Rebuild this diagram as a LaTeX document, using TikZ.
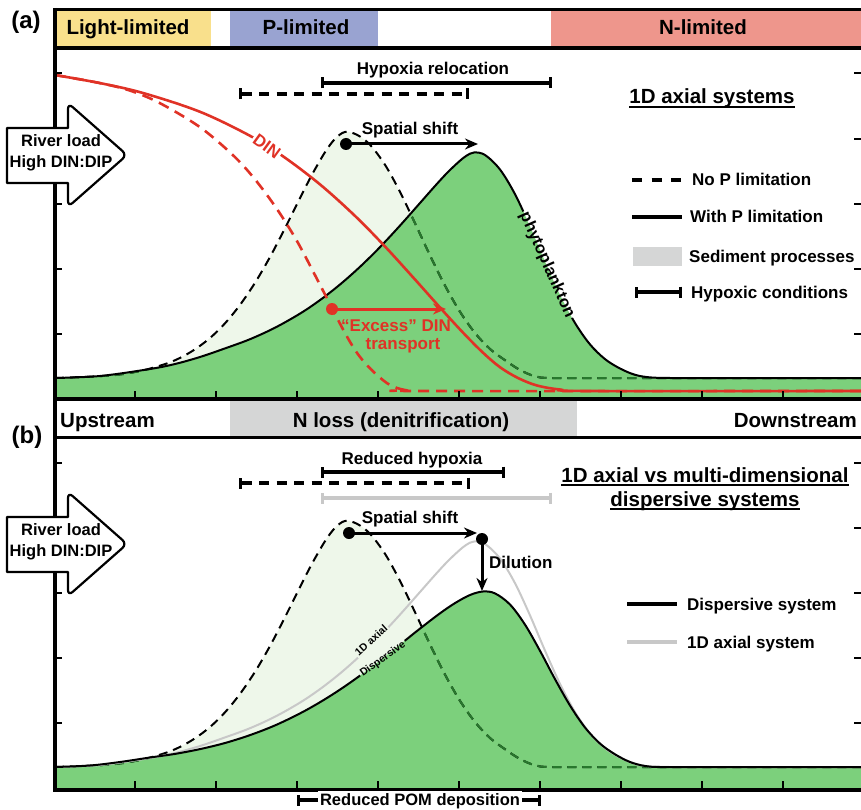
\documentclass[tikz,border=0pt]{standalone}
\usepackage{fontspec}
\setmainfont{Liberation Sans}
\usetikzlibrary{arrows.meta}
\definecolor{cgreen}{RGB}{124,208,124}
\definecolor{clight}{RGB}{238,247,234}
\definecolor{cdkgreen}{RGB}{40,120,45}
\definecolor{cred}{RGB}{224,50,38}
\definecolor{cgreybox}{RGB}{213,214,214}
\definecolor{cgreyline}{RGB}{200,200,200}
\definecolor{cyellow}{RGB}{249,224,140}
\definecolor{cblue}{RGB}{153,163,209}
\definecolor{csalmon}{RGB}{238,150,140}
\newcommand\curveGA{plot[smooth,tension=0.55] coordinates {(55,378) (100,376) (150,369) (175,364) (200,357) (225,348.4) (250,339.2) (275,327.7) (300,313.6) (320,300.1) (340,284.5) (360,266.8) (380,247.1) (400,225.6) (420,203) (435,186) (447,173) (458,162.5) (466,156) (474,152.5) (485,155) (500,169.5) (515,194.2) (530,226.4) (545,261.6) (560,294.9) (575,323) (590,344.4) (605,359.1) (620,368.5) (635,374.8) (650,377.4) (670,378) (700,378) (861,378)}}
\newcommand\curveDA{plot[smooth,tension=0.55] coordinates {(55,378) (110,375.5) (140,371) (165,364.1) (180,357.9) (195,349.3) (210,338) (225,323.3) (240,304.9) (255,282.8) (270,257) (285,228.2) (300,198.1) (312,174.7) (325,152.2) (335,138.9) (345,132) (357,134.8) (370,144.8) (385,164.8) (400,191.9) (415,223.2) (430,255.4) (445,285.6) (460,311.8) (475,333) (490,349) (505,360.2) (520,370) (535,376.3) (550,378) (600,378) (861,378)}}
\newcommand\curveRS{plot[smooth,tension=0.55] coordinates {(55,75) (100,83.1) (143,93) (200,111.8) (250,135.8) (283,156.3) (320,184.4) (355,215.9) (385,246.5) (415,279.5) (445,313.1) (465,334.7) (483,352.7) (500,367.2) (518,378) (537,385.5) (560,389.5) (590,391) (861,391)}}
\newcommand\curveRD{plot[smooth,tension=0.55] coordinates {(55,75) (100,83.1) (130,90.6) (160,103.2) (200,127.2) (233,155.2) (255,179.4) (277,209.1) (297,241.1) (317,279) (335,314) (345,333) (355,350) (365,363) (377,375) (390,385) (405,390) (425,391) (861,391)}}
\newcommand\curveDISP{plot[smooth,tension=0.55] coordinates {(55,767) (90,765.5) (120,762) (150,757.5) (175,753.9) (200,749.1) (225,743) (250,735.1) (275,725.4) (300,713.4) (320,702.2) (340,689.6) (360,675.6) (380,660.5) (400,644.6) (420,628.6) (440,613.3) (455,603.1) (470,595) (483,591.5) (495,593.4) (510,604.5) (525,624.6) (540,650.8) (555,679.1) (570,705.5) (585,727.5) (600,743.6) (615,754.3) (630,762) (645,766) (660,767) (700,767) (861,767)}}
\begin{document}
\begin{tikzpicture}[x=1pt,y=-1pt,
  lab/.style={font=\fontsize{17}{19}\selectfont\bfseries, inner sep=0pt},
  big/.style={font=\fontsize{20.5}{24}\selectfont\bfseries, inner sep=0pt},
  plab/.style={font=\fontsize{24}{24}\selectfont\bfseries, inner sep=0pt},
  curvelab/.style={font=\fontsize{#1}{#1}\selectfont\bfseries, inner sep=1.5pt},
  axln/.style={line width=3.4pt},
  tk/.style={line width=2pt},
  bdash/.style={line width=2pt, dash pattern=on 9pt off 6pt},
  rdash/.style={draw=cred, line width=2.6pt, dash pattern=on 11pt off 7pt},
  rline/.style={draw=cred, line width=2.6pt},
  pline/.style={line width=2pt},
  hbar/.style={line width=3.4pt, {Bar[width=11pt]}-{Bar[width=11pt]}},
  hdash/.style={hbar, dash pattern=on 10pt off 7.5pt},
  dotn/.style={circle, fill, inner sep=0pt, minimum size=12pt},
  arr/.style={line width=3pt, -{Stealth[length=13pt,width=11pt]}},
  rarrow/.style={draw, fill=white, line width=2.2pt, line join=round},
]
\useasboundingbox (0,0) rectangle (861,810);

% ---------- top bar ----------
\fill[cyellow] (55,11) rectangle (211,47);
\fill[cblue] (230,11) rectangle (378,47);
\fill[csalmon] (551,11) rectangle (861,47);
\node[big, anchor=base] (ll) at (128,35) {Light-limited};
\node[big, anchor=base] (pl) at (306,35) {P-limited};
\node[big, anchor=base] (nl) at (703,35) {N-limited};
\node[plab] (pa) at (26,22) {(a)};

% ---------- middle bar ----------
\fill[cgreybox] (230,400) rectangle (577,436);
\node[big, anchor=base west] (up) at (60,427) {Upstream};
\node[big, anchor=base] (nloss) at (401,427) {N loss (denitrification)};
\node[big, anchor=base east] (down) at (857,427) {Downstream};
\node[plab] (pb) at (27,437) {(b)};

% ---------- panel a: phytoplankton ----------
\fill[clight] \curveDA -- (861,398) -- (55,398) -- cycle;
\fill[cgreen] \curveGA -- (861,398) -- (55,398) -- cycle;
\draw[bdash] \curveDA;
\begin{scope}
  \clip \curveGA -- (861,398) -- (55,398) -- cycle;
  \draw[bdash, cdkgreen] \curveDA;
\end{scope}
\node[curvelab=16.5, rotate=-66] (phy) at (547,265) {phytoplankton};
\begin{scope}
  \clip (0,0) -- (861,0) -- (861,810) -- (0,810) -- cycle
        (phy.north west) -- (phy.south west) -- (phy.south east) -- (phy.north east) -- cycle;
  \draw[pline] \curveGA;
\end{scope}

% ---------- panel a: DIN ----------
\draw[rdash] \curveRD;
\node[curvelab=17, text=cred, rotate=-36] (din) at (267,146) {DIN};
\begin{scope}
  \clip (0,0) -- (861,0) -- (861,810) -- (0,810) -- cycle
        (din.north west) -- (din.south west) -- (din.south east) -- (din.north east) -- cycle;
  \draw[rline] \curveRS;
\end{scope}
\node[dotn, cred] (exd) at (332,309) {};
\coordinate (ext) at (446,309);
\draw[arr, cred] (exd.center) -- (ext);
\node[lab, text=cred, anchor=base] (ex1) at (396,331) {“Excess” DIN};
\node[lab, text=cred, anchor=base] (ex2) at (403,349) {transport};

% ---------- panel a: annotations ----------
\node[lab, anchor=base] (hyp) at (433,75) {Hypoxia relocation};
\coordinate (h1a) at (321,83); \coordinate (h1b) at (552,83);
\draw[hbar] (h1a) -- (h1b);
\coordinate (h2a) at (239,94); \coordinate (h2b) at (469,94);
\draw[hdash] (h2a) -- (h2b);
\node[lab, anchor=base] (ssa) at (410,135) {Spatial shift};
\node[dotn] (sda) at (346,144) {};
\coordinate (sta) at (478,144);
\draw[arr] (sda.center) -- (sta);

% legend a
\node[big, anchor=base] (lta) at (712,104) {1D axial systems};
\draw[line width=1.4pt] ([yshift=-3pt]lta.base west) -- ([yshift=-3pt]lta.base east);
\coordinate (la1) at (632,180); \coordinate (la2) at (681,180);
\draw[line width=3.4pt, dash pattern=on 10pt off 9.5pt] (la1) -- (la2);
\node[lab, anchor=base west] (lna) at (692,186) {No P limitation};
\coordinate (lb1) at (632,217); \coordinate (lb2) at (682,217);
\draw[line width=3.4pt] (lb1) -- (lb2);
\node[lab, anchor=base west] (lnb) at (690,223) {With P limitation};
\fill[cgreybox] (633,247) rectangle (682,266);
\node[lab, anchor=base west] (lnc) at (689,262) {Sediment processes};
\coordinate (ld1) at (635,292); \coordinate (ld2) at (682,292);
\draw[hbar] (ld1) -- (ld2);
\node[lab, anchor=base west] (lnd) at (691,298) {Hypoxic conditions};

% ---------- panel b: curves ----------
\begin{scope}[shift={(0,389)}]
  \fill[clight] \curveDA -- (861,401) -- (55,401) -- cycle;
\end{scope}
\fill[cgreen] \curveDISP -- (861,790) -- (55,790) -- cycle;
\begin{scope}[shift={(0,389)}]
  \draw[bdash] \curveDA;
\end{scope}
\begin{scope}
  \clip \curveDISP -- (861,790) -- (55,790) -- cycle;
  \begin{scope}[shift={(0,389)}]
    \draw[bdash, cdkgreen] \curveDA;
  \end{scope}
\end{scope}
\node[curvelab=10.5, rotate=42] (ax1) at (371,640) {1D axial};
\begin{scope}
  \clip (0,0) -- (861,0) -- (861,810) -- (0,810) -- cycle
        (ax1.north west) -- (ax1.south west) -- (ax1.south east) -- (ax1.north east) -- cycle;
  \begin{scope}[shift={(0,389)}]
    \draw[cgreyline, line width=2pt] \curveGA;
  \end{scope}
\end{scope}
\node[curvelab=10.5, rotate=36] (dsp) at (383,659) {Dispersive};
\begin{scope}
  \clip (0,0) -- (861,0) -- (861,810) -- (0,810) -- cycle
        (dsp.north west) -- (dsp.south west) -- (dsp.south east) -- (dsp.north east) -- cycle;
  \draw[pline] \curveDISP;
\end{scope}

% ---------- panel b: annotations ----------
\node[lab, anchor=base] (rh) at (412,464) {Reduced hypoxia};
\coordinate (r1a) at (321,472); \coordinate (r1b) at (505,472);
\draw[hbar] (r1a) -- (r1b);
\coordinate (r2a) at (239,483); \coordinate (r2b) at (470,483);
\draw[hdash] (r2a) -- (r2b);
\coordinate (r3a) at (321,498); \coordinate (r3b) at (552,498);
\draw[hbar, cgreyline] (r3a) -- (r3b);
\node[lab, anchor=base] (ssb) at (410,523) {Spatial shift};
\node[dotn] (sdb) at (349,533) {};
\coordinate (stb) at (477,533);
\draw[arr] (sdb.center) -- (stb);
\node[dotn] (dld) at (482,539) {};
\coordinate (dlt) at (482,591);
\draw[arr] (dld.center) -- (dlt);
\node[lab, anchor=base west] (dil) at (489,568) {Dilution};

% legend b
\node[big, anchor=base] (ltb1) at (705,482) {1D axial vs multi-dimensional};
\draw[line width=1.4pt] ([yshift=-3pt]ltb1.base west) -- ([yshift=-3pt]ltb1.base east);
\node[big, anchor=base] (ltb2) at (705,506) {dispersive systems};
\draw[line width=1.4pt] ([yshift=-3pt]ltb2.base west) -- ([yshift=-3pt]ltb2.base east);
\coordinate (lg1) at (627,604); \coordinate (lg2) at (677,604);
\draw[line width=3.4pt] (lg1) -- (lg2);
\node[lab, anchor=base west] (lgd) at (687,610) {Dispersive system};
\coordinate (lh1) at (627,642); \coordinate (lh2) at (677,642);
\draw[line width=3.4pt, cgreyline] (lh1) -- (lh2);
\node[lab, anchor=base west] (lgh) at (687,648) {1D axial system};

% ---------- axes ----------
\draw[axln] (55,8) -- (55,792);
\draw[line width=3pt] (55,10) -- (861,10);
\draw[axln] (55,48) -- (861,48);
\draw[axln] (55,399) -- (861,399);
\draw[axln] (55,437.5) -- (861,437.5);
\draw[axln] (55,790) -- (861,790);
\foreach \yy in {73,139,204,269,334,463,528,593,658,723} {
  \draw[tk] (55,\yy) -- (62,\yy);
  \draw[tk] (854,\yy) -- (861,\yy);
}
\foreach \xx in {135,216,297,378,459,540,621,702,783} {
  \draw[tk] (\xx,391) -- (\xx,398);
  \draw[tk] (\xx,781) -- (\xx,789);
}

% ---------- bottom label ----------
\coordinate (pm1) at (297,800); \coordinate (pm2) at (541,800);
\draw[hbar] (pm1) -- (pm2);
\node[font=\fontsize{16.5}{18}\selectfont\bfseries, fill=white, inner sep=2pt, anchor=base] (pom) at (420,805) {Reduced POM deposition};

% ---------- river load arrows ----------
\draw[rarrow] (7,128) -- (68,128) [rounded corners=6pt] -- (68,103) -- (127,155) -- (68,207) [sharp corners] -- (68,183) -- (7,183) -- cycle;
\node[font=\fontsize{16.5}{21}\selectfont\bfseries, align=center, inner sep=0pt] (rla) at (61,153) {River load\\High DIN:DIP};
\begin{scope}[shift={(0,389)}]
\draw[rarrow] (7,128) -- (68,128) [rounded corners=6pt] -- (68,103) -- (127,155) -- (68,207) [sharp corners] -- (68,183) -- (7,183) -- cycle;
\node[font=\fontsize{16.5}{21}\selectfont\bfseries, align=center, inner sep=0pt] (rlb) at (61,153) {River load\\High DIN:DIP};
\end{scope}
\end{tikzpicture}
\end{document}
